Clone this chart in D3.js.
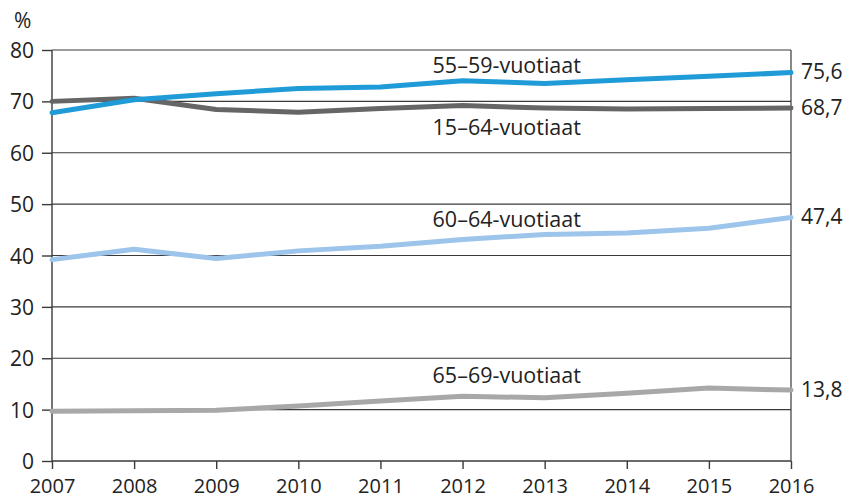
<!DOCTYPE html>
<html>
<head>
<meta charset="utf-8">
<script src="https://cdn.jsdelivr.net/npm/d3@7"></script>
<style>
  body { margin: 0; background: #fff; }
  text { font-family: "Open Sans", sans-serif; fill: #222; }
</style>
</head>
<body>
<div id="graph"></div>
<script>
const w = 849;
const h = 499;

// data
const years = [2007, 2008, 2009, 2010, 2011, 2012, 2013, 2014, 2015, 2016];
const age1564 = [70.0, 70.6, 68.4, 67.9, 68.6, 69.2, 68.7, 68.5, 68.6, 68.7];
const age5559 = [67.8, 70.3, 71.5, 72.5, 72.8, 74.0, 73.5, 74.2, 74.9, 75.6];
const age6064 = [39.2, 41.2, 39.4, 40.9, 41.8, 43.1, 44.1, 44.4, 45.3, 47.4];
const age6569 = [9.7, 9.8, 9.9, 10.7, 11.7, 12.6, 12.3, 13.2, 14.2, 13.8];
const yTicks = [0, 10, 20, 30, 40, 50, 60, 70, 80];
const seriesNames = ["15–64-vuotiaat", "55–59-vuotiaat", "60–64-vuotiaat", "65–69-vuotiaat"];
const endLabels = ["68,7", "75,6", "47,4", "13,8"];

const colors = ["#666666", "#1f9bd7", "#9dc4ea", "#a8a8a9"];
// where the series name sits (value on y axis)
const nameAt = [63.4, 75.5, 45.5, 15.2];

const series = [age1564, age5559, age6064, age6569];

const padL = 52, padR = 791, padT = 50, padB = 461;

const xScale = d3.scaleLinear().domain([2007, 2016]).range([padL, padR]);
const yScale = d3.scaleLinear().domain([0, 80]).range([padB, padT]);

const svg = d3.select("#graph").append("svg")
  .attr("width", w)
  .attr("height", h);

// grid lines
svg.append("g")
  .selectAll("line")
  .data(yTicks.filter(d => d > 0))
  .enter()
  .append("line")
  .attr("x1", padL).attr("x2", padR)
  .attr("y1", d => yScale(d)).attr("y2", d => yScale(d))
  .attr("stroke", "#3a3a3a")
  .attr("stroke-width", 1.2);

// right border
svg.append("line")
  .attr("x1", padR).attr("x2", padR)
  .attr("y1", padT).attr("y2", padB)
  .attr("stroke", "#3a3a3a")
  .attr("stroke-width", 1.2);

const yAxis = d3.axisLeft(yScale).tickValues(yTicks).tickSize(10).tickPadding(8);
const xAxis = d3.axisBottom(xScale).tickValues(years).tickFormat(d3.format("d")).tickSize(8).tickPadding(8);

const gy = svg.append("g")
  .attr("transform", "translate(" + padL + ",0)")
  .call(yAxis);

const gx = svg.append("g")
  .attr("transform", "translate(0," + padB + ")")
  .call(xAxis);

[gx, gy].forEach(g => {
  g.select(".domain").attr("stroke", "#3a3a3a").attr("stroke-width", 1.4);
  g.selectAll(".tick line").attr("stroke", "#3a3a3a").attr("stroke-width", 1.4);
  g.selectAll(".tick text").attr("fill", "#222").style("font-size", "21px").style("font-family", "Open Sans");
});
gy.select(".domain").attr("d", "M0," + padT + "V" + padB);
gx.select(".domain").attr("d", "M" + padL + ",0H" + padR);
gy.selectAll(".tick text").attr("dy", "0.36em");
gx.selectAll(".tick text").style("font-size", "20px").attr("dy", "0.8em");

svg.append("text")
  .attr("x", 14)
  .attr("y", 28)
  .style("font-size", "21px")
  .text("%");

const line = d3.line()
  .x((d, i) => xScale(years[i]))
  .y(d => yScale(d));

// draw in back-to-front order
const order = [3, 2, 0, 1];
order.forEach(k => {
  svg.append("path")
    .datum(series[k])
    .attr("d", line)
    .attr("fill", "none")
    .attr("stroke", colors[k])
    .attr("stroke-width", 5)
    .attr("stroke-linejoin", "round")
    .attr("stroke-linecap", "round");
});

series.forEach((s, k) => {
  svg.append("text")
    .attr("x", xScale(2016) + 10)
    .attr("y", yScale(s[s.length - 1]))
    .attr("dy", "0.32em")
    .style("font-size", "21px")
    .text(endLabels[k]);

  svg.append("text")
    .attr("x", xScale(2012) - 30)
    .attr("y", yScale(nameAt[k]))
    .style("font-size", "21.5px")
    .text(seriesNames[k]);
});
</script>
</body>
</html>
